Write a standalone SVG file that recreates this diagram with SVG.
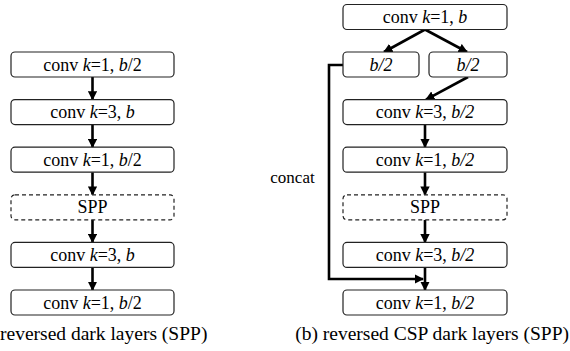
<svg xmlns="http://www.w3.org/2000/svg" width="570" height="351" viewBox="0 0 570 351">
<style>
.box{fill:#fff;stroke:#222;stroke-width:1.2}
.dash{fill:#fff;stroke:#222;stroke-width:1.2;stroke-dasharray:4,3}
text{font-family:'Liberation Serif','Times New Roman',serif;fill:#000}
.t{font-size:18px;text-anchor:middle}
.cap{font-size:19.5px}
.i{font-style:italic}
.ar{fill:none;stroke:#000;stroke-width:2.6;marker-end:url(#ah)}
</style>
<defs>
<marker id="ah" viewBox="0 0 10 10" refX="9" refY="5" markerWidth="3.6" markerHeight="3.6" orient="auto" markerUnits="strokeWidth">
<path d="M0,0 L10,5 L0,10 z" fill="#000"/>
</marker>
</defs>
<rect width="570" height="351" fill="#fff"/>

<g id="connectors">
<line class="ar" x1="92.5" y1="77" x2="92.5" y2="99.6"/>
<line class="ar" x1="92.5" y1="124.6" x2="92.5" y2="147.2"/>
<line class="ar" x1="92.5" y1="172.2" x2="92.5" y2="194.8"/>
<line class="ar" x1="92.5" y1="219.8" x2="92.5" y2="242.4"/>
<line class="ar" x1="92.5" y1="267.4" x2="92.5" y2="290"/>

<line class="ar" x1="425" y1="29.5" x2="384" y2="52"/>
<line class="ar" x1="425" y1="29.5" x2="467" y2="52"/>
<line class="ar" x1="468" y1="77" x2="426" y2="99.6"/>
<line class="ar" x1="425" y1="124.6" x2="425" y2="147.2"/>
<line class="ar" x1="425" y1="172.2" x2="425" y2="194.8"/>
<line class="ar" x1="425" y1="219.8" x2="425" y2="242.4"/>
<line class="ar" x1="425" y1="267.4" x2="425" y2="290"/>
<polyline class="ar" points="343,65 329,65 329,279 423,279"/>
</g>

<g id="a1"><rect class="box" x="11" y="52" width="163" height="25" rx="4"/><text class="t" x="92.5" y="70.5">conv <tspan class="i">k</tspan>=1, <tspan class="i">b</tspan>/2</text></g>
<g id="a2"><rect class="box" x="11" y="99.6" width="163" height="25" rx="4"/><text class="t" x="92.5" y="118">conv <tspan class="i">k</tspan>=3, <tspan class="i">b</tspan></text></g>
<g id="a3"><rect class="box" x="11" y="147.2" width="163" height="25" rx="4"/><text class="t" x="92.5" y="165.7">conv <tspan class="i">k</tspan>=1, <tspan class="i">b</tspan>/2</text></g>
<g id="a4"><rect class="dash" x="11" y="194.8" width="163" height="25" rx="4"/><text class="t" x="92.5" y="213.3">SPP</text></g>
<g id="a5"><rect class="box" x="11" y="242.4" width="163" height="25" rx="4"/><text class="t" x="92.5" y="260.9">conv <tspan class="i">k</tspan>=3, <tspan class="i">b</tspan></text></g>
<g id="a6"><rect class="box" x="11" y="290" width="163" height="25" rx="4"/><text class="t" x="92.5" y="308.5">conv <tspan class="i">k</tspan>=1, <tspan class="i">b</tspan>/2</text></g>

<g id="b1"><rect class="box" x="343" y="4.5" width="164" height="25" rx="4"/><text class="t" x="425" y="23">conv <tspan class="i">k</tspan>=1, <tspan class="i">b</tspan></text></g>
<g id="b2l"><rect class="box" x="343" y="52" width="76" height="25" rx="4"/><text class="t i" x="381" y="70.5">b/2</text></g>
<g id="b2r"><rect class="box" x="429" y="52" width="78" height="25" rx="4"/><text class="t i" x="468" y="70.5">b/2</text></g>
<g id="b3"><rect class="box" x="343" y="99.6" width="164" height="25" rx="4"/><text class="t" x="425" y="118">conv <tspan class="i">k</tspan>=3, <tspan class="i">b/2</tspan></text></g>
<g id="b4"><rect class="box" x="343" y="147.2" width="164" height="25" rx="4"/><text class="t" x="425" y="165.7">conv <tspan class="i">k</tspan>=1, <tspan class="i">b/2</tspan></text></g>
<g id="b5"><rect class="dash" x="343" y="194.8" width="164" height="25" rx="4"/><text class="t" x="425" y="213.3">SPP</text></g>
<g id="b6"><rect class="box" x="343" y="242.4" width="164" height="25" rx="4"/><text class="t" x="425" y="260.9">conv <tspan class="i">k</tspan>=3, <tspan class="i">b/2</tspan></text></g>
<g id="b7"><rect class="box" x="343" y="290" width="164" height="25" rx="4"/><text class="t" x="425" y="308.5">conv <tspan class="i">k</tspan>=1, <tspan class="i">b/2</tspan></text></g>

<text class="t" x="292.5" y="183" style="font-size:17px">concat</text>
<text class="cap" x="0" y="340">reversed dark layers (SPP)</text>
<text class="cap" x="569" y="340" text-anchor="end">(b) reversed CSP dark layers (SPP)</text>
</svg>
